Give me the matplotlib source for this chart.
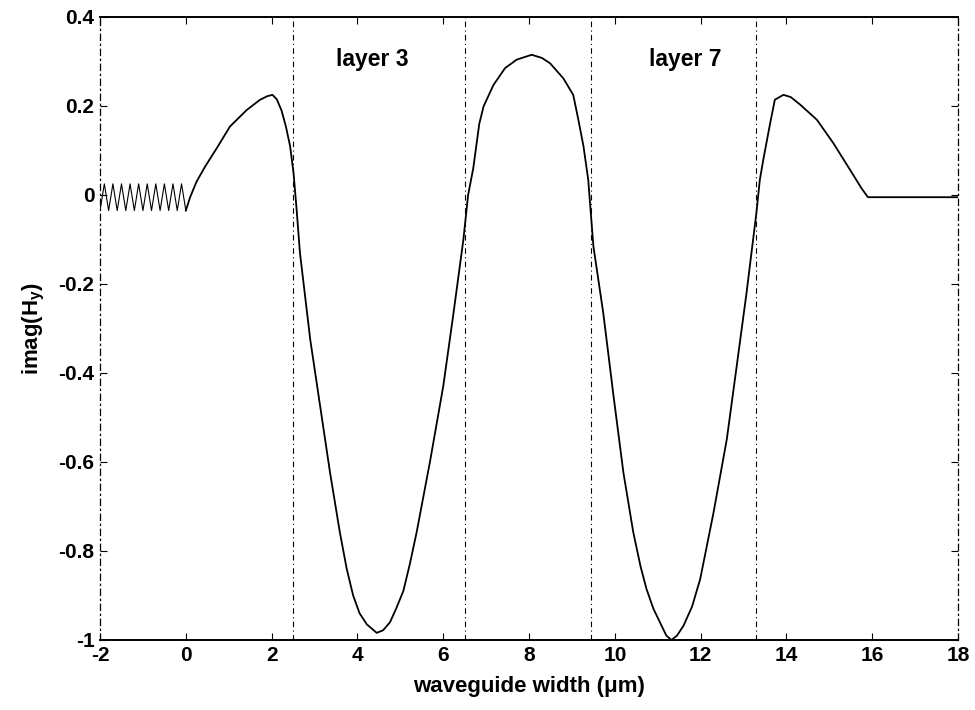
import matplotlib
matplotlib.use('Agg')
import matplotlib.pyplot as plt

plt.rcParams['font.family'] = ['Liberation Sans', 'DejaVu Sans']
plt.rcParams['font.weight'] = 'bold'

# oscillating part on the left (x < 0)
x_osc = [-2.0, -1.9, -1.8, -1.7, -1.6, -1.5, -1.4, -1.3, -1.2, -1.1, -1.0,
         -0.9, -0.8, -0.7, -0.6, -0.5, -0.4, -0.3, -0.2, -0.1, 0.0]
y_osc = [-0.035, 0.025, -0.035, 0.025, -0.035, 0.025, -0.035, 0.025, -0.035, 0.025, -0.035,
         0.025, -0.035, 0.025, -0.035, 0.025, -0.035, 0.025, -0.035, 0.025, -0.035]

# field profile
x_field = [0.0, 0.1, 0.25, 0.45, 0.72, 1.03, 1.42, 1.73, 1.9, 2.02, 2.12, 2.23, 2.33,
           2.43, 2.51, 2.58, 2.66, 2.9, 3.13, 3.36, 3.59, 3.75, 3.9, 4.05, 4.22, 4.45,
           4.6, 4.76, 4.9, 5.07, 5.22, 5.38, 5.69, 6.0, 6.24, 6.47, 6.58, 6.7, 6.84,
           6.94, 7.17, 7.44, 7.71, 8.06, 8.3, 8.49, 8.8, 9.03, 9.15, 9.27, 9.38, 9.5,
           9.73, 9.97, 10.2, 10.43, 10.6, 10.74, 10.9, 11.05, 11.2, 11.32, 11.45, 11.6,
           11.8, 11.99, 12.3, 12.61, 12.84, 13.07, 13.3, 13.38, 13.46, 13.62, 13.73,
           13.93, 14.1, 14.32, 14.71, 15.09, 15.48, 15.75, 15.9, 18.0]
y_field = [-0.035, -0.005, 0.03, 0.064, 0.105, 0.154, 0.191, 0.214, 0.222, 0.225, 0.215,
           0.19, 0.155, 0.11, 0.05, -0.03, -0.13, -0.325, -0.474, -0.623, -0.758, -0.84,
           -0.9, -0.94, -0.965, -0.984, -0.978, -0.96, -0.93, -0.89, -0.83, -0.758, -0.6,
           -0.43, -0.265, -0.1, 0.0, 0.06, 0.16, 0.199, 0.247, 0.285, 0.304, 0.315, 0.308,
           0.296, 0.262, 0.225, 0.169, 0.109, 0.034, -0.115, -0.265, -0.452, -0.624,
           -0.758, -0.835, -0.886, -0.93, -0.96, -0.99, -1.0, -0.99, -0.968, -0.925,
           -0.863, -0.714, -0.549, -0.385, -0.22, -0.04, 0.034, 0.079, 0.161, 0.214,
           0.225, 0.22, 0.203, 0.169, 0.117, 0.057, 0.015, -0.005, -0.005]

layer_edges = [2.5, 6.5, 9.45, 13.3]
layer_names = ["layer 3", "layer 7"]
layer_label_x = [4.35, 11.65]

xticks = [-2, 0, 2, 4, 6, 8, 10, 12, 14, 16, 18]
yticks = [0.4, 0.2, 0, -0.2, -0.4, -0.6, -0.8, -1]
ytick_labels = ["0.4", "0.2", "0", "-0.2", "-0.4", "-0.6", "-0.8", "-1"]

fig = plt.figure(figsize=(9.75, 7.10), dpi=100)
ax = fig.add_axes([0.1026, 0.0986, 0.88, 0.8775])

ax.plot(x_osc, y_osc, color="black", linewidth=0.8)
ax.plot(x_field, y_field, color="black", linewidth=1.3)

dashdot = (0, (5, 3, 1, 3))
for xe in layer_edges:
    ax.axvline(xe, color="black", linewidth=0.8, linestyle=dashdot)

for name, xl in zip(layer_names, layer_label_x):
    ax.text(xl, 0.305, name, ha="center", va="center", fontsize=16.5,
            fontweight="bold")

ax.set_xlim(-2, 18)
ax.set_ylim(-1, 0.4)
ax.set_xticks(xticks)
ax.set_xticklabels([str(t) for t in xticks])
ax.set_yticks(yticks)
ax.set_yticklabels(ytick_labels)
ax.tick_params(direction="in", length=5, width=0.8, top=True, right=True,
               labelsize=15, pad=4)

for side in ["top", "bottom"]:
    ax.spines[side].set_linewidth(1.4)
for side in ["left", "right"]:
    ax.spines[side].set_linewidth(0.9)
    ax.spines[side].set_linestyle(dashdot)

ax.set_xlabel("waveguide width (\u03bcm)", fontsize=16, fontweight="bold", labelpad=8)
ax.set_ylabel(r"imag(H$_\mathregular{y}$)", fontsize=16, fontweight="bold", labelpad=8)

plt.savefig("out.png", dpi=100)
